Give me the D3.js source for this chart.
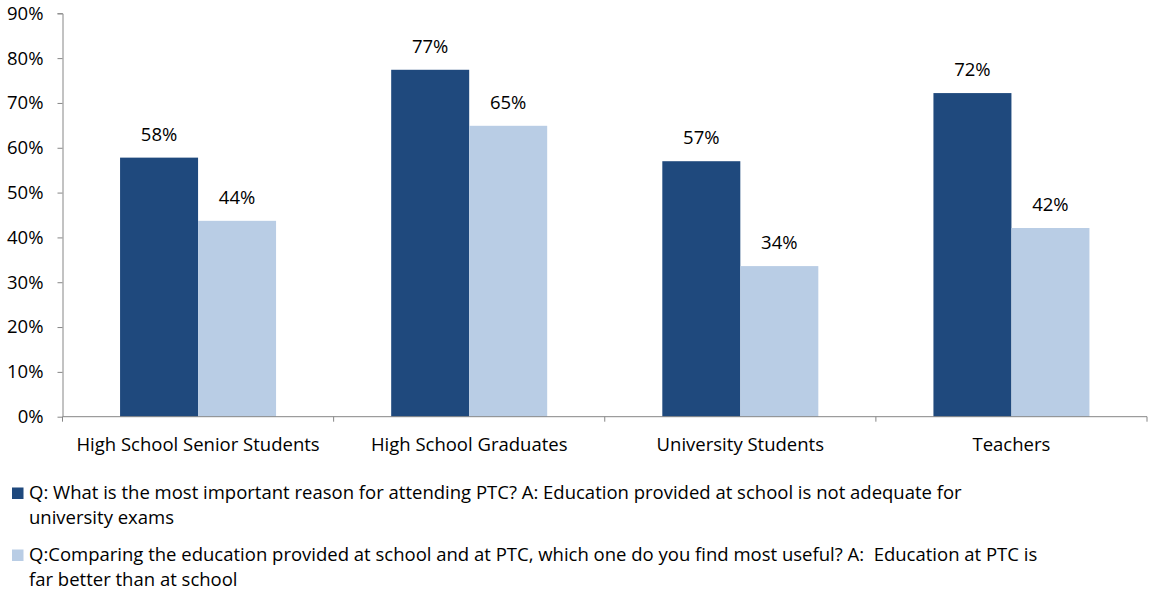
<!DOCTYPE html>
<html>
<head>
<meta charset="utf-8">
<script src="https://cdn.jsdelivr.net/npm/d3@7"></script>
<style>
body{margin:0;background:#fff;}
text{font-family:"Open Sans",Lato,sans-serif;fill:#000;}
.axis path,.axis line{stroke:#868686;}
</style>
</head>
<body>
<div id="chart"></div>
<script>
var categories=['High School Senior Students','High School Graduates','University Students','Teachers'];
var seriesNames=['Q: What is the most important reason for attending PTC? A: Education provided at school is not adequate for|university exams',
    'Q:Comparing the education provided at school and at PTC, which one do you find most useful? A:  Education at PTC is|far better than at school'];
var attendValues=[57.8,77.4,57.0,72.2];
var usefulValues=[43.7,64.9,33.6,42.1];
var yTicks=[0,10,20,30,40,50,60,70,80,90];
var colors=['#1F497D','#B9CDE5'];

var fs='18.5px';
var margin={left:62.5,right:2,top:13.3,bottom:173.3};
var width=1149-margin.left-margin.right;
var height=590-margin.top-margin.bottom;

var svg=d3.select('#chart').append('svg')
    .attr('width',1149).attr('height',590);
var g=svg.append('g')
    .attr('transform','translate('+margin.left+','+margin.top+')');

var x=d3.scaleBand().domain(categories).range([0,width]);
var x1=d3.scaleBand().domain([0,1]).range([0,156]);
var y=d3.scaleLinear().domain([0,90]).range([height,0]);

var data=categories.map(function(c,i){
    return {cat:c,vals:[attendValues[i],usefulValues[i]]};
});

var groups=g.selectAll('.cat').data(data).enter().append('g')
    .attr('class','cat')
    .attr('transform',function(d){return 'translate('+(x(d.cat)+(x.bandwidth()-156)/2)+',0)';});

groups.selectAll('rect').data(function(d){return d.vals;}).enter().append('rect')
    .attr('x',function(d,i){return x1(i);})
    .attr('y',function(d){return y(d);})
    .attr('width',x1.bandwidth())
    .attr('height',function(d){return height-y(d);})
    .attr('fill',function(d,i){return colors[i];});

groups.selectAll('.lbl').data(function(d){return d.vals;}).enter().append('text')
    .attr('class','lbl')
    .attr('x',function(d,i){return x1(i)+x1.bandwidth()/2;})
    .attr('y',function(d){return y(d)-17;})
    .attr('text-anchor','middle')
    .style('font-size',fs)
    .text(function(d){return Math.round(d)+'%';});

var yAxis=d3.axisLeft(y).tickValues(yTicks).tickSize(5).tickPadding(14)
    .tickFormat(function(d){return d+'%';});
var yg=g.append('g').attr('class','axis').call(yAxis);
yg.select('.domain').attr('d','M-5,0.5H0.5V'+height);
yg.selectAll('text').style('font-size',fs);

var xAxis=d3.axisBottom(x).tickSize(0).tickPadding(21);
var xg=g.append('g').attr('class','axis')
    .attr('transform','translate(0,'+height+')').call(xAxis);
xg.select('.domain').attr('d','M0,0H'+width);
xg.selectAll('text').style('font-size',fs);
xg.selectAll('.sep').data(d3.range(categories.length+1)).enter().append('line')
    .attr('class','sep')
    .attr('x1',function(i){return i*x.step();})
    .attr('x2',function(i){return i*x.step();})
    .attr('y1',0).attr('y2',5)
    .attr('stroke','#868686');

var legend=svg.selectAll('.legend').data(seriesNames).enter().append('g')
    .attr('class','legend')
    .attr('transform',function(d,i){return 'translate(12,'+(487.5+i*62)+')';});
legend.append('rect').attr('width',11.5).attr('height',11.5)
    .attr('fill',function(d,i){return colors[i];});
legend.each(function(d){
    var lines=d.split('|');
    d3.select(this).selectAll('text').data(lines).enter().append('text')
        .attr('x',17)
        .attr('y',function(l,j){return 11.5+j*25;})
        .style('font-size',fs)
        .attr('xml:space','preserve')
        .text(function(l){return l;});
});
</script>
</body>
</html>
